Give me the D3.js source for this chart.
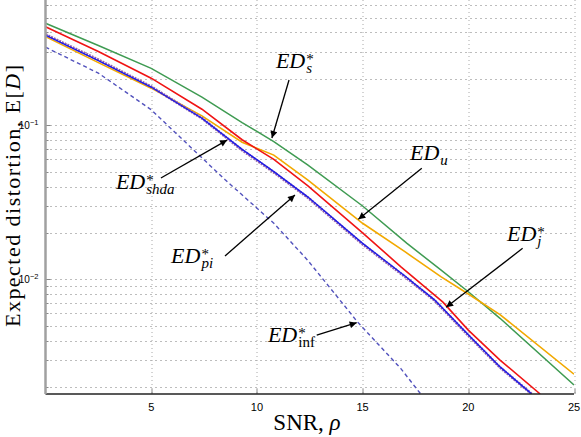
<!DOCTYPE html>
<html>
<head>
<meta charset="utf-8">
<script src="https://cdn.jsdelivr.net/npm/d3@7"></script>
<style>
  body { margin: 0; background: #fff; }
</style>
</head>
<body>
<div id="chart"></div>
<script>
// values (SNR in dB, expected distortion)
var snrS = [0, 2.5, 5, 7.4, 9.3, 10.8, 12.4, 15, 17.1, 18.7, 20, 21.5, 25];
var edS = [0.459, 0.329, 0.234, 0.152, 0.104, 0.0783, 0.0552, 0.0299, 0.0171, 0.0115, 0.0083, 0.00558, 0.00206];

var snrJ = [0, 2.5, 5, 7.4, 9.3, 10.8, 12.4, 15, 16.8, 18.8, 20, 21.5, 23.4];
var edJ = [0.436, 0.301, 0.202, 0.127, 0.0805, 0.0600, 0.0405, 0.02, 0.0121, 0.0071, 0.00468, 0.00299, 0.0018];

var snrU = [0, 2.5, 5, 7.4, 9.3, 10.8, 12.4, 15, 17, 18.7, 20, 21.5, 25];
var edU = [0.376, 0.255, 0.174, 0.115, 0.0776, 0.064, 0.0442, 0.0231, 0.0151, 0.0104, 0.00803, 0.0059, 0.00242];

var snrPi = [0, 2.5, 5, 7.4, 9.3, 10.8, 12.4, 15, 17, 18.4, 20, 21.5, 23];
var edPi = [0.385, 0.263, 0.177, 0.111, 0.0697, 0.05, 0.0343, 0.0171, 0.0105, 0.00735, 0.00436, 0.0027, 0.0018];
var edShda = [0.388, 0.266, 0.178, 0.111, 0.069, 0.0495, 0.034, 0.0169, 0.0104, 0.0073, 0.00432, 0.00268, 0.0018];

var snrInf = [0, 2.5, 5, 7.4, 8.5, 9.2, 10.8, 12.4, 13.8, 14.75, 16.8, 17.75];
var edInf = [0.321, 0.218, 0.126, 0.0614, 0.0442, 0.0363, 0.0231, 0.0133, 0.0077, 0.0053, 0.00264, 0.0018];

var xTicks = [5, 10, 15, 20, 25];
var yLabelTicks = [0.1, 0.01];
var yTickText = ["\u22121", "\u22122"];

// set the dimensions and margins of the graph
var W = 581, H = 437;
var margin = { top: 0, right: 7, bottom: 43, left: 45.5 },
    width = W - margin.left - margin.right,
    height = H - margin.top - margin.bottom;

var x = d3.scaleLinear().domain([0, 25]).range([0, width]);
var y = d3.scaleLog().domain([0.0018, 0.65]).range([height, 0]);

var serif = "'Liberation Serif', 'Times New Roman', Times, serif";
var sans = "'Liberation Sans', Arial, Helvetica, sans-serif";

var svgRoot = d3.select("#chart")
    .append("svg")
    .attr("width", W)
    .attr("height", H);

var svg = svgRoot.append("g")
    .attr("transform", "translate(" + margin.left + "," + margin.top + ")");

svg.append("clipPath").attr("id", "clip")
    .append("rect")
    .attr("width", width)
    .attr("height", height);

// horizontal dotted grid (all log ticks)
svg.append("g")
    .selectAll("line")
    .data(y.ticks())
    .enter()
    .append("line")
    .attr("x1", 0)
    .attr("x2", width)
    .attr("y1", function (d) { return Math.round(y(d)) + 0.5; })
    .attr("y2", function (d) { return Math.round(y(d)) + 0.5; })
    .attr("stroke", "#7a7a7a")
    .attr("stroke-width", 1)
    .attr("stroke-dasharray", "1,4");

// vertical dotted grid
svg.append("g")
    .selectAll("line")
    .data(xTicks)
    .enter()
    .append("line")
    .attr("x1", function (d) { return Math.round(x(d)) + 0.5; })
    .attr("x2", function (d) { return Math.round(x(d)) + 0.5; })
    .attr("y1", 0)
    .attr("y2", height)
    .attr("stroke", "#a8a8a8")
    .attr("stroke-width", 1)
    .attr("stroke-dasharray", "1,3");

// curves
var line = d3.line()
    .x(function (d) { return x(d[0]); })
    .y(function (d) { return y(d[1]); });

var curves = [
    { xs: snrInf, ys: edInf, color: "#5252bd", w: 1.4, dash: "4,3" },
    { xs: snrS, ys: edS, color: "#3f9b52", w: 1.5 },
    { xs: snrU, ys: edU, color: "#f2a900", w: 1.6 },
    { xs: snrJ, ys: edJ, color: "#f01414", w: 1.6 },
    { xs: snrPi, ys: edShda, color: "#9a62a8", w: 2.8, dash: "2,1" },
    { xs: snrPi, ys: edPi, color: "#1c1ce8", w: 1.4 }
];

var gc = svg.append("g").attr("clip-path", "url(#clip)");
curves.forEach(function (c) {
    gc.append("path")
        .datum(d3.zip(c.xs, c.ys))
        .attr("fill", "none")
        .attr("stroke", c.color)
        .attr("stroke-width", c.w)
        .attr("stroke-dasharray", c.dash || null)
        .attr("d", line);
});

// y ticks (inward)
svg.append("g")
    .selectAll("line")
    .data(y.ticks())
    .enter()
    .append("line")
    .attr("x1", 0)
    .attr("x2", function (d) { return yLabelTicks.indexOf(d) >= 0 ? 5 : 3; })
    .attr("y1", function (d) { return Math.round(y(d)) + 0.5; })
    .attr("y2", function (d) { return Math.round(y(d)) + 0.5; })
    .attr("stroke", "#888");

// x ticks (inward)
svg.append("g")
    .selectAll("line")
    .data(xTicks)
    .enter()
    .append("line")
    .attr("x1", function (d) { return Math.round(x(d)) + 0.5; })
    .attr("x2", function (d) { return Math.round(x(d)) + 0.5; })
    .attr("y1", height)
    .attr("y2", height - 5)
    .attr("stroke", "#888");

// axes lines
svg.append("line")
    .attr("x1", 0).attr("x2", width)
    .attr("y1", height).attr("y2", height)
    .attr("stroke", "#222")
    .attr("stroke-width", 1.3);

svg.append("line")
    .attr("x1", 0).attr("x2", 0)
    .attr("y1", 0).attr("y2", height)
    .attr("stroke", "#a0a0a0")
    .attr("stroke-width", 2.5);

// x tick labels
svg.append("g")
    .attr("font-family", sans)
    .attr("font-size", 11)
    .attr("text-anchor", "middle")
    .selectAll("text")
    .data(xTicks)
    .enter()
    .append("text")
    .attr("x", function (d) { return x(d); })
    .attr("y", height + 17)
    .text(function (d) { return d; });

// y tick labels 10^-1, 10^-2
yLabelTicks.forEach(function (d, i) {
    var t = svg.append("text")
        .attr("font-family", sans)
        .attr("font-size", 10)
        .attr("text-anchor", "end")
        .attr("x", -7)
        .attr("y", y(d) + 4);
    t.append("tspan").text("10");
    t.append("tspan")
        .attr("font-size", 7.5)
        .attr("dy", -4.5)
        .text(yTickText[i]);
});

// axis titles
var xl = svgRoot.append("text")
    .attr("font-family", serif)
    .attr("font-size", 23)
    .attr("text-anchor", "middle")
    .attr("x", 307)
    .attr("y", 430);
xl.append("tspan").text("SNR, ");
xl.append("tspan").attr("font-style", "italic").text("\u03c1");

var yl = svgRoot.append("text")
    .attr("font-family", serif)
    .attr("font-size", 22)
    .attr("text-anchor", "middle")
    .attr("transform", "translate(19.5,196) rotate(-90)")
    .attr("textLength", 262)
    .attr("lengthAdjust", "spacing");
yl.append("tspan").text("Expected distortion, E[");
yl.append("tspan").attr("font-style", "italic").text("D");
yl.append("tspan").text("]");

// annotations: label position and arrow (tail -> head), in data units
var labels = [
    { tx: 10.9, ty: 0.2341, sub: "s", tail: [11.52, 0.1965], head: [10.71, 0.0826] },
    { tx: 3.33, ty: 0.0386, sub: "shda", tail: [5.46, 0.0454], head: [8.59, 0.0801] },
    { tx: 5.94, ty: 0.01275, sub: "pi", tail: [8.49, 0.01416], head: [11.8, 0.03522] },
    { tx: 17.24, ty: 0.0594, sub: "u", star: false, tail: [17.8, 0.0525], head: [14.8, 0.02449] },
    { tx: 21.83, ty: 0.0177, sub: "j", tail: [22.57, 0.01588], head: [18.95, 0.006574] },
    { tx: 10.52, ty: 0.00389, sub: "inf", upright: true, tail: [12.83, 0.004346], head: [14.72, 0.005223] }
];

svgRoot.append("defs").append("marker")
    .attr("id", "arrow")
    .attr("viewBox", "0 0 10 10")
    .attr("refX", 10)
    .attr("refY", 5)
    .attr("markerWidth", 9)
    .attr("markerHeight", 7)
    .attr("markerUnits", "userSpaceOnUse")
    .attr("orient", "auto")
    .append("path")
    .attr("d", "M0,0 L10,5 L0,10 z")
    .attr("fill", "#000");

labels.forEach(function (l) {
    var px = x(l.tx), py = y(l.ty);
    var t = svg.append("text")
        .attr("font-family", serif)
        .attr("font-size", 22)
        .attr("x", px)
        .attr("y", py);
    var main = t.append("tspan")
        .attr("font-style", "italic")
        .text("ED");
    var w = main.node().getComputedTextLength();
    // superscript star and subscript stacked at the same x
    if (l.star !== false) {
        t.append("tspan")
            .attr("font-size", 15)
            .attr("x", px + w + 1)
            .attr("y", py - 4)
            .text("*");
    }
    t.append("tspan")
        .attr("font-size", 15)
        .attr("font-style", l.upright ? "normal" : "italic")
        .attr("x", px + w + 1)
        .attr("y", py + 5)
        .text(l.sub);

    svg.append("line")
        .attr("x1", x(l.tail[0]))
        .attr("y1", y(l.tail[1]))
        .attr("x2", x(l.head[0]))
        .attr("y2", y(l.head[1]))
        .attr("stroke", "#000")
        .attr("stroke-width", 1.3)
        .attr("marker-end", "url(#arrow)");
});
</script>
</body>
</html>
